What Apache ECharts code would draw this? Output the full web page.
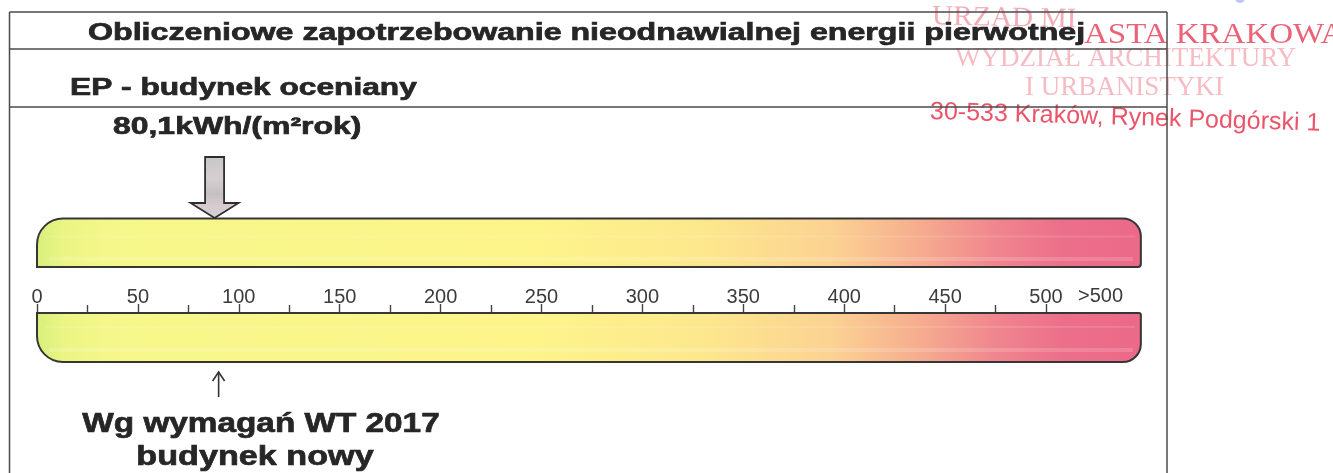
<!DOCTYPE html>
<html><head><meta charset="utf-8">
<script src="https://cdn.jsdelivr.net/npm/echarts@6/dist/echarts.min.js"></script>
<style>html,body{margin:0;padding:0;background:#fff}#c{width:1333px;height:473px}</style>
</head><body><div id="c"></div>
<script>
// ---- data ----
const scaleTicks = [0, 50, 100, 150, 200, 250, 300, 350, 400, 450, 500];
const tickLabels = ['0', '50', '100', '150', '200', '250', '300', '350', '400', '450', '500'];
const overflowLabel = '>500';
const overflowLabelAt = 527;
const scaleStart = 0;
const scaleEnd = 547;          // end of the coloured bands
const epValue = 80.1;          // kWh/(m2 rok)
const epArrowAt = 88;          // where the grey arrow points on the scale
const wtArrowAt = 90;          // where the small WT 2017 arrow points
const titleText = 'Obliczeniowe zapotrzebowanie nieodnawialnej energii pierwotnej';
const epTitle = 'EP - budynek oceniany';
const epUnit = 'kWh/(m²rok)';
const wtLines = ['Wg wymagań WT 2017', 'budynek nowy'];
const stampLines = ['URZĄD MI', 'ASTA KRAKOWA', 'WYDZIAŁ ARCHITEKTURY', 'I URBANISTYKI', '30-533 Kraków, Rynek Podgórski 1'];

const epLabel = String(epValue).replace('.', ',') + epUnit;

// ---- styles ----
const INK = '#262626';
const BOLD = '"Liberation Sans", Arial, sans-serif';
const bandStops = [
  {offset: 0.00, color: '#d8ef7c'},
  {offset: 0.025, color: '#ebf584'},
  {offset: 0.07, color: '#f6f78a'},
  {offset: 0.45, color: '#fdf48a'},
  {offset: 0.60, color: '#fde88d'},
  {offset: 0.72, color: '#fbd292'},
  {offset: 0.80, color: '#f6ac8f'},
  {offset: 0.87, color: '#ef858e'},
  {offset: 0.93, color: '#ec6f8a'},
  {offset: 1.00, color: '#eb6989'}
];

function roundedPath(x0, x1, yt, yb, rTL, rTR, rBR, rBL) {
  const k = 0.5523;
  let p = `M${x0} ${yt + rTL}`;
  p += ` C${x0} ${yt + rTL - rTL * k} ${x0 + rTL - rTL * k} ${yt} ${x0 + rTL} ${yt}`;
  p += ` L${x1 - rTR} ${yt}`;
  p += ` C${x1 - rTR + rTR * k} ${yt} ${x1} ${yt + rTR - rTR * k} ${x1} ${yt + rTR}`;
  p += ` L${x1} ${yb - rBR}`;
  p += ` C${x1} ${yb - rBR + rBR * k} ${x1 - rBR + rBR * k} ${yb} ${x1 - rBR} ${yb}`;
  p += ` L${x0 + rBL} ${yb}`;
  p += ` C${x0 + rBL - rBL * k} ${yb} ${x0} ${yb - rBL + rBL * k} ${x0} ${yb - rBL}`;
  p += ' Z';
  return p;
}

function renderBand(params, api) {
  const cs = params.coordSys;
  const axisY = cs.y;
  const x0 = api.coord([api.value(0), 0])[0];
  const x1 = api.coord([api.value(1), 0])[0];
  const isTop = params.dataIndex === 0;
  const yt = isTop ? axisY - 94.5 : axisY;
  const yb = isTop ? axisY - 46 : axisY + 49;
  const path = isTop ? roundedPath(x0, x1, yt, yb, 26, 18, 3, 0)
                     : roundedPath(x0, x1, yt, yb, 0, 2, 18, 26);
  const stripeY = isTop ? yb - 10 : yb - 14;
  return {
    type: 'group',
    children: [
      {type: 'path', shape: {pathData: path},
       style: {fill: new echarts.graphic.LinearGradient(0, 0, 1, 0, bandStops), stroke: 'none'}},
      {type: 'rect', shape: {x: x0 + 12, y: stripeY, width: x1 - x0 - 20, height: 4},
       style: {fill: 'rgba(255,255,255,0.16)'}},
      {type: 'rect', shape: {x: x0 + 8, y: yt + (isTop ? 17 : 13), width: x1 - x0 - 14, height: 2},
       style: {fill: 'rgba(255,255,255,0.12)'}},
      {type: 'path', shape: {pathData: path},
       style: {fill: 'none', stroke: '#363636', lineWidth: 2}}
    ]
  };
}

function renderArrows(params, api) {
  const cs = params.coordSys;
  const axisY = cs.y;
  const bottom = cs.y + cs.height;
  const cx = api.coord([api.value(0), 0])[0];
  if (params.dataIndex === 0) {
    const top = axisY - 156, headTop = axisY - 110, tip = axisY - 95;
    const sw = 9.5, hw = 24;
    return {
      type: 'polygon',
      shape: {points: [[cx - sw, top], [cx + sw, top], [cx + sw, headTop], [cx + hw, headTop],
                       [cx, tip], [cx - hw, headTop], [cx - sw, headTop]]},
      style: {
        fill: new echarts.graphic.LinearGradient(0, 0, 0, 1, [
          {offset: 0, color: '#c6c6c6'}, {offset: 0.35, color: '#d6cfd2'},
          {offset: 0.6, color: '#c5c1c3'}, {offset: 0.8, color: '#d8ccd1'}, {offset: 1, color: '#d0d0d0'}]),
        stroke: '#2e2e2e', lineWidth: 1.8
      }
    };
  }
  return {
    type: 'group',
    children: [
      {type: 'line', shape: {x1: cx, y1: bottom + 35, x2: cx, y2: bottom + 10},
       style: {stroke: '#333', lineWidth: 1.6}},
      {type: 'polyline', shape: {points: [[cx - 6, bottom + 19], [cx, bottom + 10], [cx + 6, bottom + 19]]},
       style: {stroke: '#333', lineWidth: 1.6, fill: 'none'}}
    ]
  };
}

function renderOverflow(params, api) {
  const cs = params.coordSys;
  const p = api.coord([api.value(0), 0]);
  return {
    type: 'text',
    x: p[0], y: cs.y - 7,
    style: {text: overflowLabel, fill: '#3c3c3c', font: '20px "Liberation Sans", Arial, sans-serif',
            textAlign: 'center', align: 'center', textVerticalAlign: 'bottom', verticalAlign: 'bottom'}
  };
}

function txt(text, x, y, size, scaleX, align) {
  return {
    type: 'text', x: x, y: y, scaleX: scaleX, z: 20,
    style: {text: text, fill: INK, font: 'bold ' + size + 'px ' + BOLD,
            stroke: INK, lineWidth: 0.7,
            textAlign: align, align: align, textVerticalAlign: 'middle', verticalAlign: 'middle'}
  };
}

function stampTxt(text, x, y, font, color, scaleX, rot) {
  return {
    type: 'text', x: x, y: y, z: 5, rotation: rot || 0, scaleX: scaleX || 1,
    style: {text: text, fill: color, font: font,
            textAlign: 'left', align: 'left', textVerticalAlign: 'middle', verticalAlign: 'middle'}
  };
}

const frame = {stroke: '#4a4a4a', lineWidth: 1.5};
const graphics = [
  {type: 'line', z: 15, shape: {x1: 9.5, y1: 12, x2: 1167, y2: 12}, style: frame},
  {type: 'line', z: 15, shape: {x1: 9.5, y1: 49, x2: 1167, y2: 49}, style: frame},
  {type: 'line', z: 15, shape: {x1: 9.5, y1: 107, x2: 1167, y2: 107}, style: frame},
  {type: 'line', z: 15, shape: {x1: 9.5, y1: 12, x2: 9.5, y2: 473}, style: frame},
  {type: 'line', z: 15, shape: {x1: 1167, y1: 12, x2: 1167, y2: 473}, style: frame},
  stampTxt(stampLines[0], 932, 17, '28px "Liberation Serif", serif', 'rgba(228,70,92,0.45)', 1.05, -0.02),
  stampTxt(stampLines[1], 1084, 35, '30px "Liberation Serif", serif', 'rgba(232,72,96,0.85)', 1.1),
  stampTxt(stampLines[2], 955, 59, '27px "Liberation Serif", serif', 'rgba(238,120,135,0.5)', 1.0),
  stampTxt(stampLines[3], 1025, 88, '27px "Liberation Serif", serif', 'rgba(238,120,135,0.5)', 1.0),
  {
    type: 'text', x: 930, y: 112, z: 5, rotation: -0.03, originX: 0, originY: 0,
    style: {text: stampLines[4], fill: 'rgba(232,66,90,0.9)', font: '25px "Liberation Sans", Arial, sans-serif',
            textAlign: 'left', align: 'left', textVerticalAlign: 'middle', verticalAlign: 'middle'}
  },
  {type: 'circle', z: 5, shape: {cx: 1240, cy: -2, r: 5}, style: {fill: 'rgba(120,140,230,0.5)'}},
  txt(titleText, 88, 33.5, 24, 1.34, 'left'),
  txt(epTitle, 70, 88.5, 24, 1.32, 'left'),
  txt(epLabel, 113, 127.5, 24, 1.33, 'left'),
  txt(wtLines[0], 261, 424, 28, 1.19, 'center'),
  txt(wtLines[1], 255, 457, 28, 1.22, 'center')
];

const chart = echarts.init(document.getElementById('c'), null, {renderer: 'canvas'});
chart.setOption({
  animation: false,
  backgroundColor: '#fff',
  grid: {left: 37, right: 287, top: 313, height: 49, containLabel: false},
  xAxis: {
    type: 'value', position: 'top', min: scaleTicks[0], max: scaleTicks[scaleTicks.length - 1], interval: 50,
    axisLine: {show: true, onZero: false, lineStyle: {color: '#363636', width: 2}},
    axisTick: {show: true, length: 9, lineStyle: {color: '#444', width: 1.4}},
    minorTick: {show: true, splitNumber: 2, length: 8, lineStyle: {color: '#444', width: 1.4}},
    splitLine: {show: false},
    axisLabel: {
      show: true, interval: 0, margin: 6, fontSize: 20, color: '#3c3c3c',
      fontFamily: '"Liberation Sans", Arial, sans-serif',
      formatter: function (v) { const i = scaleTicks.indexOf(v); return i >= 0 ? tickLabels[i] : ''; }
    }
  },
  yAxis: {type: 'value', show: false, min: 0, max: 1},
  series: [
    {type: 'custom', z: 1, silent: true, clip: false, renderItem: renderBand,
     data: [[scaleStart, scaleEnd], [scaleStart, scaleEnd]]},
    {type: 'custom', z: 3, silent: true, clip: false, renderItem: renderArrows,
     data: [[epArrowAt], [wtArrowAt]]},
    {type: 'custom', z: 3, silent: true, clip: false, renderItem: renderOverflow,
     data: [[overflowLabelAt]]}
  ],
  graphic: {elements: graphics}
});
</script>
</body></html>
